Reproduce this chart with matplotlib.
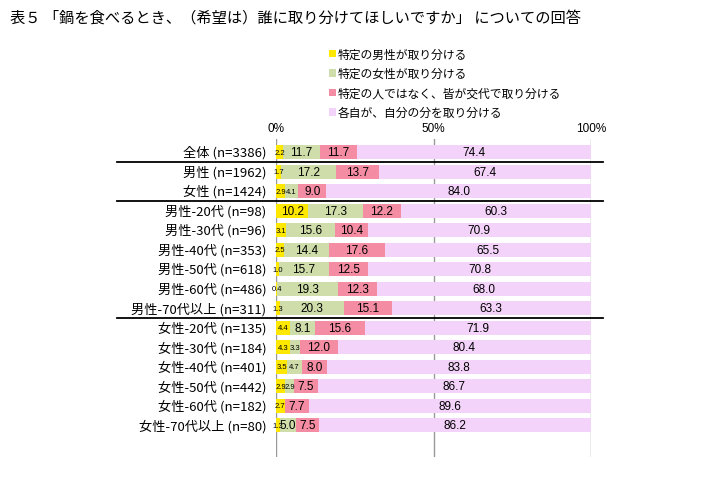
import matplotlib
matplotlib.use("Agg")
import matplotlib.pyplot as plt
import matplotlib.transforms as mtransforms
from matplotlib.patches import Patch
import numpy as np

plt.rcParams['font.family'] = ['Noto Sans CJK JP', 'DejaVu Sans']

# categories (top to bottom)
groups = ["全体 (n=3386)", "男性 (n=1962)", "女性 (n=1424)",
          "男性-20代 (n=98)", "男性-30代 (n=96)", "男性-40代 (n=353)",
          "男性-50代 (n=618)", "男性-60代 (n=486)", "男性-70代以上 (n=311)",
          "女性-20代 (n=135)", "女性-30代 (n=184)", "女性-40代 (n=401)",
          "女性-50代 (n=442)", "女性-60代 (n=182)", "女性-70代以上 (n=80)"]
groups.insert(0, groups.pop(0))

series_names = ["特定の男性が取り分ける", "特定の女性が取り分ける",
                "特定の人ではなく、皆が交代で取り分ける", "各自が、自分の分を取り分ける"]

male_pick = [2.2, 1.7, 2.9, 10.2, 3.1, 2.5, 1.0, 0.4, 1.3, 4.4, 4.3, 3.5, 2.9, 2.7, 1.3]
female_pick = [11.7, 17.2, 4.1, 17.3, 15.6, 14.4, 15.7, 19.3, 20.3, 8.1, 3.3, 4.7, 2.9, 0.0, 5.0]
take_turns = [11.7, 13.7, 9.0, 12.2, 10.4, 17.6, 12.5, 12.3, 15.1, 15.6, 12.0, 8.0, 7.5, 7.7, 7.5]
each_self = [74.4, 67.4, 84.0, 60.3, 70.9, 65.5, 70.8, 68.0, 63.3, 71.9, 80.4, 83.8, 86.7, 89.6, 86.2]

colors = ['#FFE800', '#CEDDAA', '#F48DA4', '#F3D3F9']

fig = plt.figure(figsize=(7.1, 4.81), dpi=100)
ax = fig.add_axes([276/710, 1-458/481, (591-276)/710, (458-140)/481])

y = np.arange(len(groups))
left = np.zeros(len(groups))
for vals, c in zip([male_pick, female_pick, take_turns, each_self], colors):
    vals = np.array(vals)
    ax.barh(y, vals, left=left, height=0.72, color=c, zorder=2)
    for i, v in enumerate(vals):
        if v <= 0:
            continue
        fs = 5.5 if v < 5 else 8.5
        ax.text(left[i] + v/2, y[i], f"{v:.1f}", ha='center', va='center',
                fontsize=fs, color='black', zorder=3, family='Liberation Sans')
    left = left + vals

for xv in [0, 50, 100]:
    ax.axvline(xv, color='#999999', lw=1, zorder=1)

ax.set_xlim(0, 100)
ax.set_ylim(15 + 12/19.53, -13/19.53)
ax.set_yticks(y)
ax.set_yticklabels(groups, fontsize=9.5, va='center')
ax.tick_params(axis='y', length=0, pad=7)
ax.xaxis.tick_top()
ax.set_xticks([0, 50, 100])
ax.set_xticklabels(["0%", "50%", "100%"], fontsize=8.5, family='Liberation Sans')
ax.tick_params(axis='x', length=0, pad=3.5)
for s in ax.spines.values():
    s.set_visible(False)

# separator lines between groups
trans = mtransforms.blended_transform_factory(fig.transFigure, ax.transData)
for yy in [0.5, 2.5, 8.5]:
    ax.plot([117/710, 603/710], [yy, yy], color='black', lw=1.3,
            transform=trans, clip_on=False, zorder=4)

handles = [Patch(facecolor=c, edgecolor='none') for c in colors]
fig.legend(handles, series_names, loc='upper left',
           bbox_to_anchor=(318/710, 1-38/481), frameon=False, fontsize=8.5,
           handlelength=0.6, handleheight=0.6, handletextpad=0.2, labelspacing=0.55)

fig.text(10/710, 1-18/481, "表５ 「鍋を食べるとき、（希望は）誰に取り分けてほしいですか」 についての回答",
         fontsize=11, ha='left', va='center')

fig.savefig("out.png", dpi=100)
